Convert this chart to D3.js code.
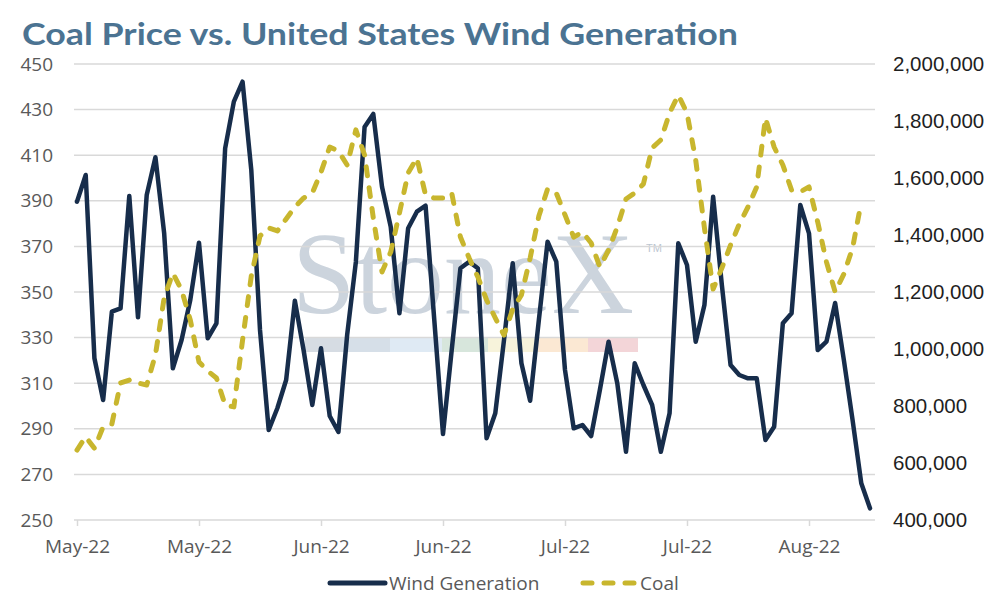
<!DOCTYPE html>
<html>
<head>
<meta charset="utf-8">
<script src="https://cdn.jsdelivr.net/npm/d3@7"></script>
<style>
  body { margin: 0; background: #fff; }
  svg { display: block; }
</style>
</head>
<body>
<div id="chart"></div>
<script>
const width = 994;
const height = 600;

// daily observations, 10 May 2022 onward
const startDate = new Date(2022, 4, 10);

// wind generation (right axis)
const windGeneration = [
  1517000, 1610500, 967400, 821000, 1130900, 1142800, 1536800, 1111200, 1540300, 1672600,
  1407000, 932300, 1031600, 1171900, 1373000, 1037500, 1090200, 1704200, 1867700, 1937900,
  1628100, 1066700, 715800, 793000, 891200, 1169500, 996500, 803500, 1002500, 764900,
  708800, 1049100, 1305300, 1779000, 1824600, 1569500, 1429100, 1125300, 1423500, 1481800,
  1502800, 1101700, 701700, 996500, 1283200, 1306300, 1283200, 686700, 774400, 1031600,
  1300700, 949800, 818600, 1101700, 1376500, 1306300, 926300, 721700, 733300, 694700,
  856100, 1025600, 879600, 639600, 949800, 873700, 803500, 639600, 774400, 1370900,
  1294700, 1025600, 1154400, 1534400, 1224500, 943900, 908800, 897200, 897200, 680700,
  727400, 1090200, 1125300, 1505300, 1406000, 996500, 1025600, 1161400, 961400, 750900,
  528800, 441000
];

// coal price (left axis)
const coalPrice = [
  280.7, 286.5, 281.4, 290.9, 292.1, 310.1, 311.4, 310.1, 309.2, 322.4,
  347.4, 358.3, 350.9, 337.7, 319.3, 315.4, 312.3, 300.4, 299.6, 328.9,
  357.0, 374.6, 378.1, 376.8, 382.0, 387.3, 391.2, 393.4, 402.6, 413.6,
  411.8, 405.7, 421.1, 410.1, 382.5, 358.8, 367.5, 384.6, 402.2, 408.8,
  392.5, 391.2, 391.2, 393.4, 374.1, 364.9, 356.6, 346.5, 338.6, 331.1,
  342.5, 348.7, 364.9, 383.3, 395.2, 393.4, 383.8, 374.1, 376.3, 371.5,
  361.0, 368.4, 378.5, 390.8, 393.4, 397.4, 413.2, 416.7, 428.5, 436.4,
  428.5, 407.9, 378.1, 351.3, 360.5, 370.6, 379.8, 387.3, 396.1, 426.3,
  413.6, 405.7, 394.7, 393.9, 396.1, 380.7, 363.2, 350.0, 357.9, 369.3,
  389.5
];

const leftTicks = [250, 270, 290, 310, 330, 350, 370, 390, 410, 430, 450];
const rightTicks = [400000, 600000, 800000, 1000000, 1200000, 1400000, 1600000, 1800000, 2000000];
const xTickLabels = ['May-22', 'May-22', 'Jun-22', 'Jun-22', 'Jul-22', 'Jul-22', 'Aug-22'];

const dates = d3.timeDay.range(startDate, d3.timeDay.offset(startDate, windGeneration.length));
// a tick every two weeks, counted from the first day
const tickDates = xTickLabels.map((d, i) => d3.timeDay.offset(startDate, i * 14));

const colWind = '#172d4b';
const colCoal = '#c8b62e';
const grey = '#595959';

const plot = { left: 74, right: 875, top: 64, bottom: 520 };

const svg = d3.select('#chart').append('svg')
  .attr('width', width)
  .attr('height', height);

const xScale = d3.scaleTime()
  .domain([startDate, d3.timeDay.offset(startDate, 91)])
  .range([77, 870]);

const yLeft = d3.scaleLinear().domain([250, 450]).range([plot.bottom, plot.top]);
const yRight = d3.scaleLinear().domain([400000, 2000000]).range([plot.bottom, plot.top]);

// title
svg.append('text')
  .attr('x', 22)
  .attr('y', 45)
  .attr('fill', '#4b7392')
  .attr('font-family', 'Lato, "Open Sans", sans-serif')
  .attr('font-weight', 700)
  .attr('font-size', 31)
  .attr('textLength', 716)
  .attr('lengthAdjust', 'spacingAndGlyphs')
  .text('Coal Price vs. United States Wind Generation');

// watermark
const wm = svg.append('g').attr('class', 'watermark');
wm.append('text')
  .attr('x', 292)
  .attr('y', 313)
  .attr('fill', '#ccd4dd')
  .attr('font-family', '"Liberation Serif", "DejaVu Serif", serif')
  .attr('font-size', 116)
  .attr('textLength', 342)
  .attr('lengthAdjust', 'spacingAndGlyphs')
  .text('StoneX');
wm.append('text')
  .attr('x', 646)
  .attr('y', 252)
  .attr('fill', '#bcc6d1')
  .attr('font-family', '"Liberation Sans", sans-serif')
  .attr('font-size', 11)
  .text('TM');
const bandCols = ['#d6dce3', '#d6dfe8', '#dfeaf4', '#d7e6dc', '#f7f3db', '#fbe8d3', '#f3d5d8'];
const bandEdges = [305, 342, 390, 442, 488, 538, 588, 638];
wm.selectAll('rect').data(bandCols)
  .enter().append('rect')
  .attr('x', (d, i) => bandEdges[i])
  .attr('width', (d, i) => bandEdges[i + 1] - bandEdges[i])
  .attr('y', 338)
  .attr('height', 14)
  .attr('fill', d => d);

// gridlines
svg.append('g').selectAll('line').data(leftTicks.slice(1))
  .enter().append('line')
  .attr('x1', plot.left)
  .attr('x2', plot.right)
  .attr('y1', d => yLeft(d))
  .attr('y2', d => yLeft(d))
  .attr('stroke', '#d9d9d9')
  .attr('stroke-width', 1.5);

// left axis
const leftAxis = svg.append('g')
  .attr('transform', 'translate(53,0)')
  .call(d3.axisLeft(yLeft).tickValues(leftTicks).tickSize(0).tickPadding(0));
leftAxis.select('.domain').remove();
leftAxis.selectAll('text')
  .attr('fill', grey)
  .attr('font-family', '"Open Sans", sans-serif')
  .attr('font-size', 19);

// right axis
const rightAxis = svg.append('g')
  .attr('transform', `translate(${plot.right},0)`)
  .call(d3.axisRight(yRight).tickValues(rightTicks).tickSize(0).tickPadding(18)
    .tickFormat(d3.format(',')));
rightAxis.select('.domain').remove();
rightAxis.selectAll('text')
  .attr('fill', '#1f1f1f')
  .attr('font-family', '"Liberation Sans", Arial, sans-serif')
  .attr('font-size', 20.5);

// bottom axis
const bottomAxis = svg.append('g')
  .attr('transform', `translate(0,${plot.bottom})`)
  .call(d3.axisBottom(xScale).tickValues(tickDates).tickSize(6).tickPadding(14)
    .tickFormat((d, i) => xTickLabels[i]));
bottomAxis.select('.domain')
  .attr('d', `M${plot.left},0H${plot.right}`)
  .attr('stroke', '#d9d9d9')
  .attr('stroke-width', 1.5);
bottomAxis.selectAll('.tick line')
  .attr('stroke', '#d9d9d9')
  .attr('stroke-width', 1.5);
bottomAxis.selectAll('text')
  .attr('fill', grey)
  .attr('font-family', '"Open Sans", sans-serif')
  .attr('font-size', 19);

// lines
const windLine = d3.line()
  .x((d, i) => xScale(dates[i]))
  .y(d => yRight(d));

const coalLine = d3.line()
  .x((d, i) => xScale(dates[i]))
  .y(d => yLeft(d));

svg.append('path')
  .datum(windGeneration)
  .attr('d', windLine)
  .attr('fill', 'none')
  .attr('stroke', colWind)
  .attr('stroke-width', 4.5)
  .attr('stroke-linejoin', 'round')
  .attr('stroke-linecap', 'round');

svg.append('path')
  .datum(coalPrice)
  .attr('d', coalLine)
  .attr('fill', 'none')
  .attr('stroke', colCoal)
  .attr('stroke-width', 5)
  .attr('stroke-dasharray', '9,12')
  .attr('stroke-linejoin', 'round')
  .attr('stroke-linecap', 'round');

// legend
const legend = svg.append('g').attr('transform', 'translate(0,583)');
legend.append('line')
  .attr('x1', 330).attr('x2', 385)
  .attr('stroke', colWind)
  .attr('stroke-width', 5)
  .attr('stroke-linecap', 'round');
legend.append('text')
  .attr('x', 389).attr('y', 7)
  .attr('fill', grey)
  .attr('font-family', '"Open Sans", sans-serif')
  .attr('font-size', 19)
  .text('Wind Generation');
legend.append('line')
  .attr('x1', 583).attr('x2', 636)
  .attr('stroke', colCoal)
  .attr('stroke-width', 5)
  .attr('stroke-dasharray', '9,12')
  .attr('stroke-linecap', 'round');
legend.append('text')
  .attr('x', 640).attr('y', 7)
  .attr('fill', grey)
  .attr('font-family', '"Open Sans", sans-serif')
  .attr('font-size', 19)
  .text('Coal');
</script>
</body>
</html>
